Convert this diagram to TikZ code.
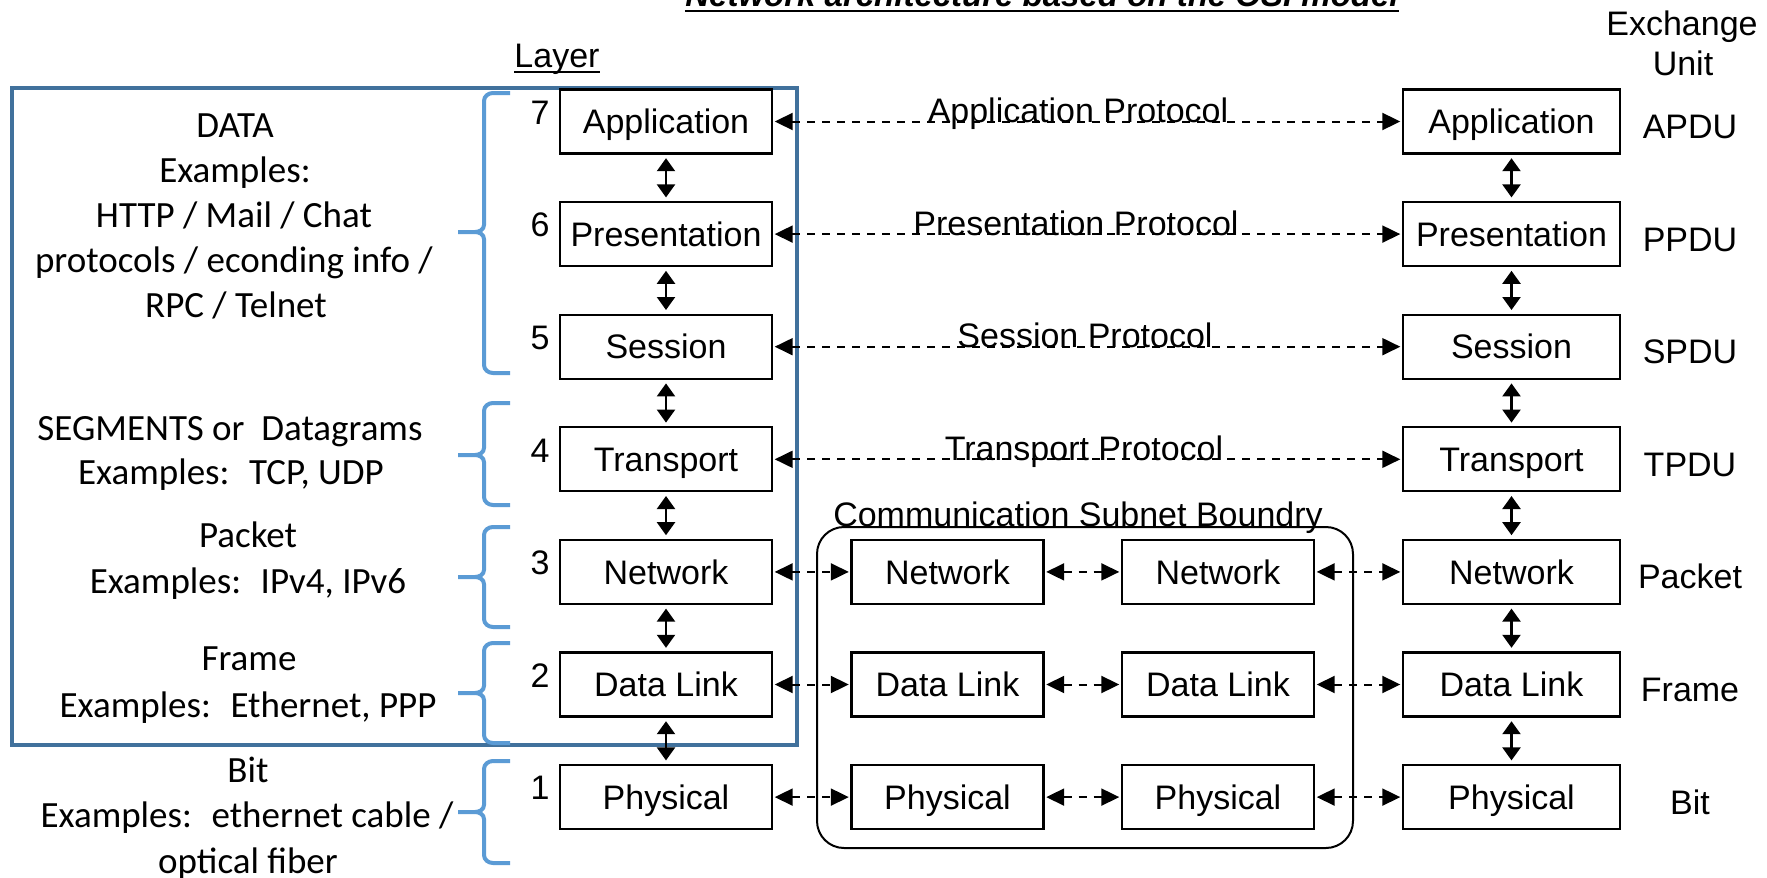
\documentclass[tikz,border=0pt]{standalone}
\usepackage{fontspec}
\setmainfont{Liberation Sans}
\newfontfamily\notefont{Carlito}
\usetikzlibrary{arrows.meta}
\definecolor{framecol}{HTML}{41719C}
\definecolor{bracecol}{HTML}{5B9BD5}

\tikzset{
  osifont/.style={font=\fontsize{17}{20}\selectfont},
  layerbox/.style={draw, line width=1.1pt, osifont, minimum height=32pt,
    inner sep=0pt, text height=12.2pt, text depth=0pt},
  hostL/.style={layerbox, minimum width=106pt},
  hostR/.style={layerbox, minimum width=108.5pt},
  relay/.style={layerbox, minimum width=96pt},
  lbl/.style={osifont, inner sep=0pt},
  peer/.style={line width=1pt, dash pattern=on 4pt off 3.5pt,
    {Triangle[length=9pt,width=8.5pt]}-{Triangle[length=9pt,width=8.5pt]},
    shorten <=0.8pt, shorten >=0.8pt},
  stack/.style={line width=1.1pt,
    {Triangle[length=6.5pt,width=9pt]}-{Triangle[length=6.5pt,width=9pt]},
    shorten <=1.8pt, shorten >=1.8pt},
  note/.style={font=\notefont\fontsize{18.5}{22.5}\selectfont, inner sep=0pt, anchor=base},
  brace/.style={draw=bracecol, line width=2pt, line join=round},
}

% curly bracket: top end, tip, bottom end (y values)
\newcommand\layerbrace[3]{%
  \draw[brace] (510,#1) -- (493,#1) to[out=180,in=90] (484,#1+8)
    -- (484,#2-7) to[out=-90,in=0] (475,#2) -- (458,#2);
  \draw[brace] (475,#2) to[out=0,in=90] (484,#2+7)
    -- (484,#3-8) to[out=-90,in=180] (493,#3) -- (510,#3);
}

\begin{document}
\begin{tikzpicture}[x=0.5pt,y=-0.5pt]
\useasboundingbox (0,0) rectangle (1767,878);

% heading, partly above the page
\node[font=\fontsize{16.5}{20}\selectfont\bfseries\itshape, inner sep=0pt, anchor=base]
  (title) at (1042,6) {Network architecture based on the OSI model};
\draw[line width=1pt] ([yshift=-2.5pt]title.base west) -- ([yshift=-2.5pt]title.base east);

% column headings
\node[lbl, anchor=base] (layer) at (557,68) {Layer};
\draw[line width=0.9pt] ([yshift=-2pt]layer.base west) -- ([yshift=-2pt]layer.base east);
\node[lbl, anchor=base] (exch) at (1682,35) {Exchange};
\node[lbl, anchor=base] (unit) at (1683,75) {Unit};

% group frame of the upper layers
\draw[framecol, line width=2pt] (12,88) rectangle (797,745);

% communication subnet
\node[draw, line width=1pt, rounded corners=13.5pt, minimum width=268pt,
  minimum height=160.5pt, inner sep=0pt] (subnet) at (1085,687.5) {};
\node[lbl, anchor=base] (subnetlabel) at (1078,526) {Communication Subnet Boundry};

% the two end systems
\foreach \n/\name/\y in {7/Application/121.5, 6/Presentation/234.1,
    5/Session/346.7, 4/Transport/459.3, 3/Network/571.9,
    2/Data Link/684.5, 1/Physical/797.1} {
  \node[hostL] (L\n) at (666,\y) {\name};
  \node[hostR] (R\n) at (1511.5,\y) {\name};
  \node[lbl] (num\n) at (540,\y-9) {\n};
}

% relay nodes inside the subnet
\foreach \n/\name/\y in {3/Network/571.9, 2/Data Link/684.5, 1/Physical/797.1} {
  \node[relay] (Ma\n) at (947.5,\y) {\name};
  \node[relay] (Mb\n) at (1218,\y) {\name};
}

% exchange units
\foreach \n/\u/\y in {7/APDU/121.5, 6/PPDU/234.1, 5/SPDU/346.7, 4/TPDU/459.3,
    3/Packet/571.9, 2/Frame/684.5, 1/Bit/797.1} {
  \node[lbl, anchor=base] (pdu\n) at (1690,\y+17) {\u};
}

% interfaces between adjacent layers
\foreach \a/\b in {7/6, 6/5, 5/4, 4/3, 3/2, 2/1} {
  \draw[stack] (L\a.south) -- (L\b.north);
  \draw[stack] (R\a.south) -- (R\b.north);
}

% peer protocols of the upper layers
\foreach \n in {7,6,5,4} {
  \draw[peer] (L\n.east) -- (R\n.west);
}
\node[lbl, anchor=base] (proto7) at (1078,122.5) {Application Protocol};
\node[lbl, anchor=base] (proto6) at (1076,235.1) {Presentation Protocol};
\node[lbl, anchor=base] (proto5) at (1085,347.7) {Session Protocol};
\node[lbl, anchor=base] (proto4) at (1084,460.3) {Transport Protocol};

% hop-by-hop links of the lower layers
\foreach \n in {3,2,1} {
  \draw[peer] (L\n.east) -- (Ma\n.west);
  \draw[peer] (Ma\n.east) -- (Mb\n.west);
  \draw[peer] (Mb\n.east) -- (R\n.west);
}

% annotations on the left
\node[note] (d1) at (235,137) {DATA};
\node[note] (d2) at (235,182) {Examples:};
\node[note] (d3) at (234,227) {HTTP / Mail / Chat};
\node[note] (d4) at (234,272) {protocols / econding info /};
\node[note] (d5) at (236,317) {RPC / Telnet};
\node[note] (s1) at (230,440) {SEGMENTS or~ Datagrams};
\node[note] (s2) at (231,484) {Examples:~ TCP, UDP};
\node[note] (p1) at (248,547) {Packet};
\node[note] (p2) at (248,593) {Examples:~ IPv4, IPv6};
\node[note] (f1) at (249,670) {Frame};
\node[note] (f2) at (248,717) {Examples:~ Ethernet, PPP};
\node[note] (b1) at (248,782) {Bit};
\node[note] (b2) at (247,827) {Examples:~ ethernet cable /};
\node[note] (b3) at (248,873) {optical fiber};

\layerbrace{93}{232}{373}
\layerbrace{403}{455}{505}
\layerbrace{527}{577}{627}
\layerbrace{643}{693}{743}
\layerbrace{761}{812}{863}
\end{tikzpicture}
\end{document}
